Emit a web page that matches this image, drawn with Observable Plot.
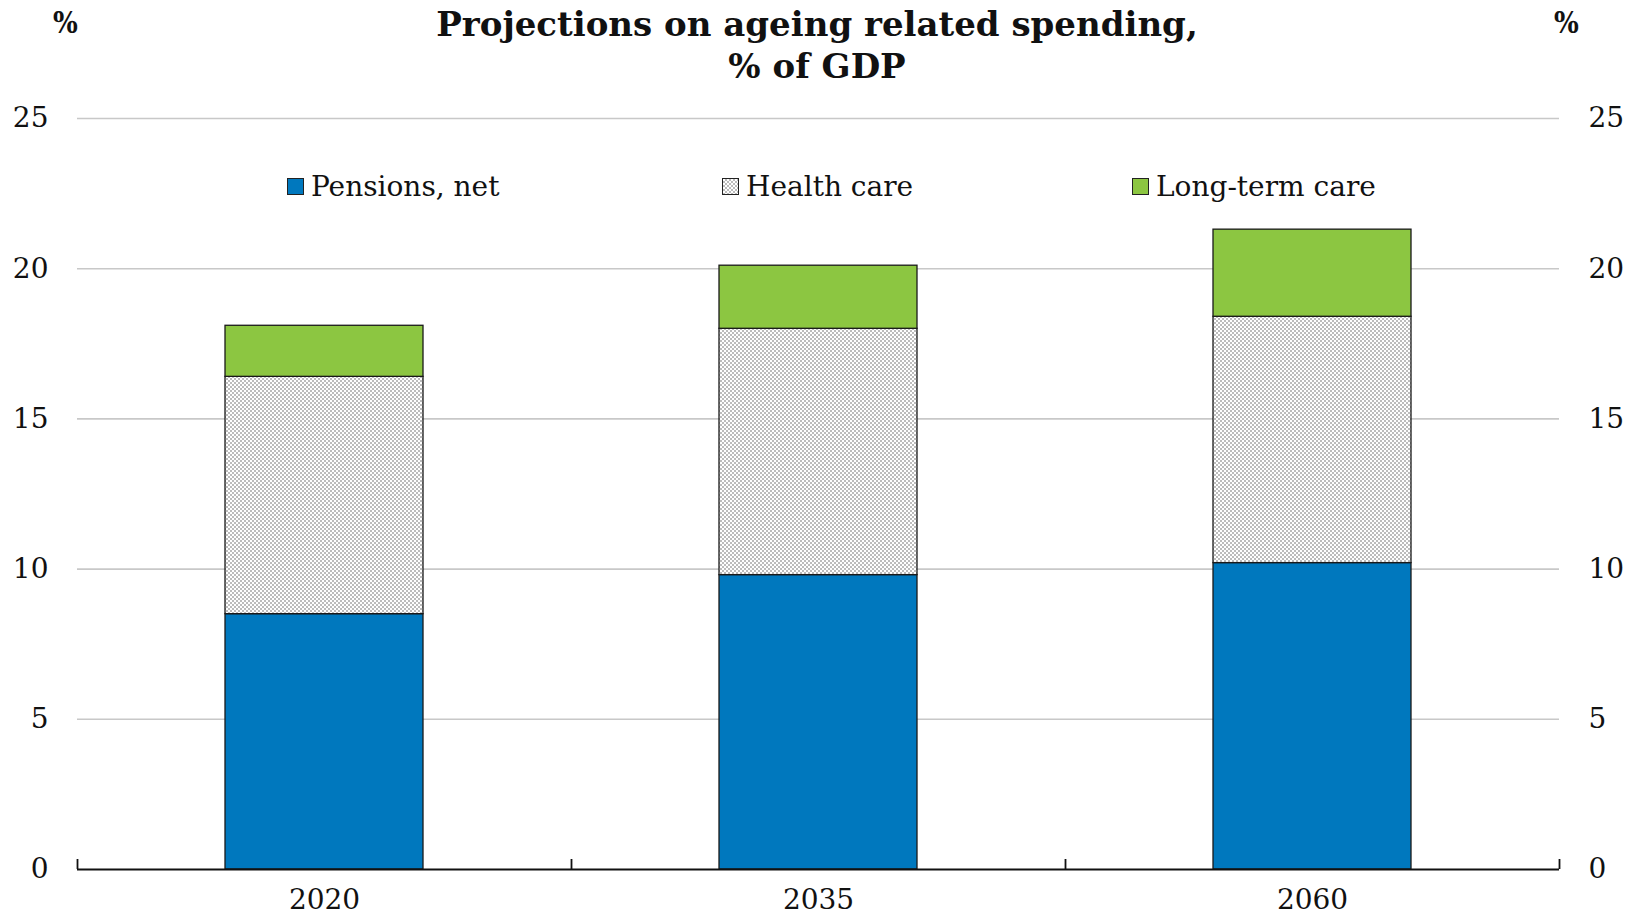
<!DOCTYPE html>
<html>
<head>
<meta charset="utf-8">
<script src="https://cdn.jsdelivr.net/npm/d3@7"></script>
<script src="https://cdn.jsdelivr.net/npm/@observablehq/plot@0.6"></script>
<style>
  html, body { margin: 0; padding: 0; background: #fff; }
  #wrap { position: relative; width: 1634px; height: 915px; font-family: "DejaVu Serif", serif; color: #111; }
  #title { position: absolute; top: 3px; left: 0; width: 1634px; text-align: center; font-family: "DejaVu Serif", serif; font-weight: bold; font-size: 34px; line-height: 42px; }
  .pct { position: absolute; top: 6px; font-weight: bold; font-size: 29px; font-family: "DejaVu Serif Condensed", "DejaVu Serif", serif; font-stretch: condensed; }
  .leg { position: absolute; top: 170px; display: flex; align-items: center; font-size: 28px; white-space: nowrap; }
  .sw { width: 15px; height: 15px; border: 1px solid #222; margin-right: 7px; }
</style>
</head>
<body>
<div id="wrap">
  <div id="chart"></div>
  <div id="title">Projections on ageing related spending,<br>% of GDP</div>
  <div class="pct" style="left:53px">%</div>
  <div class="pct" style="left:1554px">%</div>
  <div id="legend"></div>
</div>
<script>
// ---- data ----
const categories = ["2020", "2035", "2060"];
const seriesNames = ["Pensions, net", "Health care", "Long-term care"];
const pensions = [8.5, 9.8, 10.2];
const healthCare = [7.9, 8.2, 8.2];
const longTermCare = [1.7, 2.1, 2.9];
const yTicks = [0, 5, 10, 15, 20, 25];

const seriesValues = [pensions, healthCare, longTermCare];
const data = [];
seriesNames.forEach((s, si) => categories.forEach((c, ci) => data.push({year: c, series: s, value: seriesValues[si][ci]})));

// ---- layout ----
const W = 1634, H = 915, mL = 77, mR = 75, mT = 118, mB = 46;
const halfStep = (W - mL - mR) / categories.length / 2;
const colors = ["#0078be", "url(#hcPattern)", "#8cc641"];

const plot = Plot.plot({
  width: W, height: H,
  marginLeft: mL, marginRight: mR, marginTop: mT, marginBottom: mB,
  style: {fontFamily: "DejaVu Serif, serif", fontSize: "28px", color: "#111", background: "transparent"},
  x: {domain: categories, paddingInner: 0.6, paddingOuter: 0.3, label: null},
  y: {domain: [0, 25], label: null},
  color: {domain: seriesNames, range: colors},
  marks: [
    Plot.gridY(yTicks.filter(v => v > 0), {stroke: "#c8c8c8", strokeOpacity: 1, strokeWidth: 1.6}),
    Plot.axisY(yTicks, {anchor: "left", tickSize: 0, tickPadding: 29, label: null}),
    Plot.axisY(yTicks, {anchor: "right", tickSize: 0, tickPadding: 29, label: null}),
    Plot.barY(data, {x: "year", y: "value", fill: "series", order: seriesNames, stroke: "#1a1a1a", strokeWidth: 1.3}),
    Plot.ruleY([0], {stroke: "#111", strokeWidth: 1.8}),
    Plot.ruleX(categories, {x: d => d, y1: 0, y2: 0, dx: -halfStep, insetTop: -10, stroke: "#111", strokeWidth: 1.8}),
    Plot.ruleX(categories.slice(-1), {x: d => d, y1: 0, y2: 0, dx: halfStep, insetTop: -10, stroke: "#111", strokeWidth: 1.8}),
    Plot.axisX({tickSize: 0, tickPadding: 20, label: null})
  ]
});

// pattern for Health care
const ns = "http://www.w3.org/2000/svg";
const defs = document.createElementNS(ns, "defs");
defs.innerHTML = '<pattern id="hcPattern" patternUnits="userSpaceOnUse" width="4" height="4">' +
  '<rect width="4" height="4" fill="#ffffff"/>' +
  '<rect x="0" y="0" width="2" height="2" fill="#bcbcbc"/>' +
  '<rect x="2" y="2" width="2" height="2" fill="#bcbcbc"/></pattern>';
plot.insertBefore(defs, plot.firstChild);
document.getElementById("chart").appendChild(plot);

// legend
const legendLeft = [287, 722, 1132];
const legendBg = ["#0078be", "repeating-conic-gradient(#bcbcbc 0 25%, #fff 0 50%) 0 0/4px 4px", "#8cc641"];
const leg = document.getElementById("legend");
seriesNames.forEach((s, i) => {
  const item = document.createElement("div");
  item.className = "leg";
  item.style.left = legendLeft[i] + "px";
  item.innerHTML = `<div class="sw" style="background:${legendBg[i]}"></div><span>${s}</span>`;
  leg.appendChild(item);
});
</script>
</body>
</html>
